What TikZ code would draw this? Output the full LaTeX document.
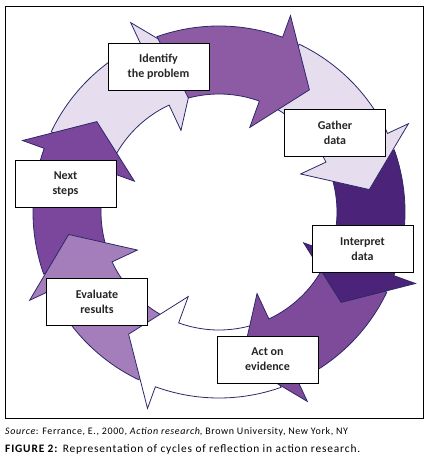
\documentclass[tikz,border=0pt]{standalone}
\usepackage{fontspec}
\setmainfont{Carlito}
\newfontfamily\capfont[LetterSpace=6]{Carlito}
\newfontfamily\figfont[LetterSpace=7.3]{Carlito}
\definecolor{ringline}{HTML}{2D2868}
\definecolor{lavA}{HTML}{E6DDEF}
\definecolor{plumA}{HTML}{8D5BA3}
\definecolor{plumB}{HTML}{7A479C}
\definecolor{plumC}{HTML}{A47DBB}
\definecolor{plumD}{HTML}{7E4B9A}
\definecolor{plumE}{HTML}{4B2378}
\begin{document}
\begin{tikzpicture}[x=1pt, y=1pt,
    stage/.style={draw, fill=white, line width=0.8pt,
                  minimum width=101pt, minimum height=47pt, align=center,
                  font=\bfseries\fontsize{12}{15}\selectfont, text=black!85},
    ring/.style={draw=ringline, line width=0.8pt, line join=miter},
    caption/.style={anchor=base west, inner sep=0pt},
  ]
  \useasboundingbox (0,0) rectangle (429,-463);
  \draw[line width=0.9pt] (5,-6) rectangle (423,-418);

  % circular arrows, clockwise; the first one ends on top
  \begin{scope}[shift={(219,-212)}]
    \foreach \b/\col in {115/lavA, 160/plumB, 205/plumC, 250/white,
                         295/plumD, 340/plumE, 25/lavA, 70/plumA}
      \filldraw[ring, fill=\col] ({\b+39.5}:186)
        arc[start angle={\b+39.5}, end angle=\b, radius=186]
        -- (\b:209) -- ({\b-16.5}:152) -- (\b:90) -- (\b:118)
        arc[start angle=\b, end angle={\b+35}, radius=118] -- cycle;
  \end{scope}

  % stages
  \node[stage] (identify)  at (158.5,-66.5) {Identify\\the problem};
  \node[stage] (gather)    at (335,-132.5)  {Gather\\data};
  \node[stage] (interpret) at (362.5,-249)  {Interpret\\data};
  \node[stage] (act)       at (267.5,-359.5) {Act on\\evidence};
  \node[stage] (evaluate)  at (97,-302)     {Evaluate\\results};
  \node[stage] (next)      at (65.5,-184)   {Next\\steps};

  % caption
  \node[caption, font=\capfont\fontsize{10}{12}\selectfont] (source) at (5,-434)
    {\textit{Source}: Ferrance, E., 2000, \textit{Action research}, Brown University, New York, NY};
  \node[caption, font=\figfont\fontsize{11.4}{13}\selectfont] (figcap) at (5,-452)
    {\textbf{FIGURE 2:} Representation of cycles of reflection in action research.};
\end{tikzpicture}
\end{document}
